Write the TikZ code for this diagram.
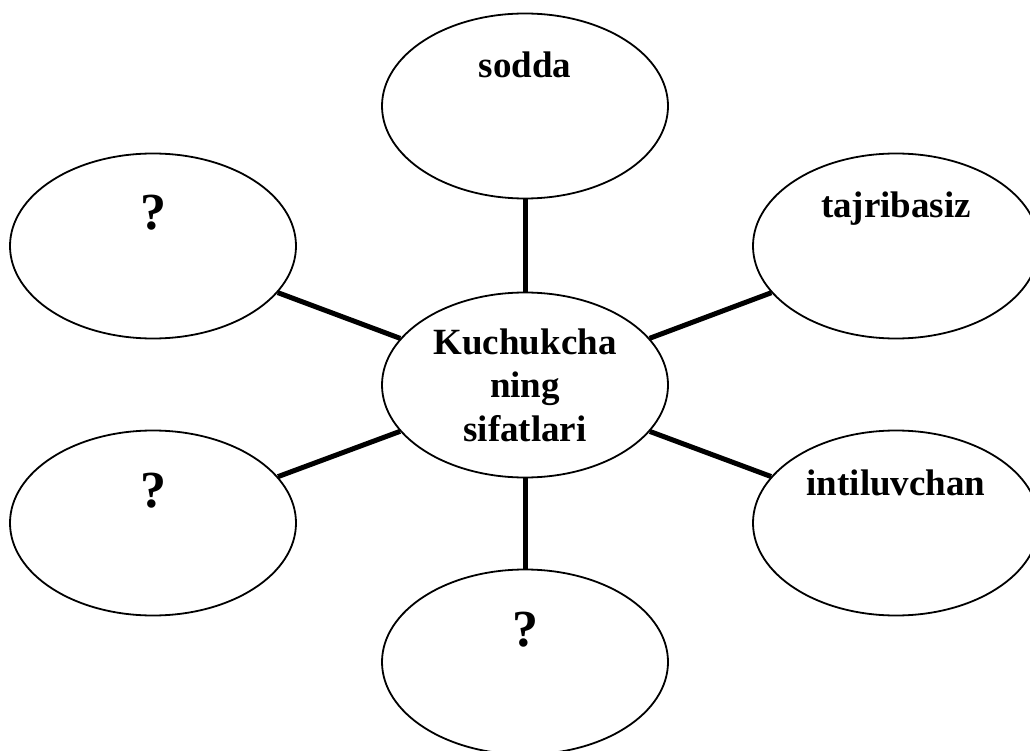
\documentclass[tikz,border=0pt]{standalone}
\usepackage{fontspec}
\setmainfont{Liberation Serif}
\usetikzlibrary{shapes.geometric}
\begin{document}
\begin{tikzpicture}[x=1pt,y=-1pt]
% Styles
\tikzstyle{bulle}=[draw,ellipse,line width=1.8pt,minimum width=286pt,minimum height=185pt,inner sep=0pt,font=\bfseries\fontsize{37}{43.5}\selectfont]
\tikzstyle{mot}=[bulle,text height=25pt,text depth=81pt]
\tikzstyle{question}=[bulle,text height=25pt,text depth=57pt,font=\bfseries\fontsize{52}{60}\selectfont]
\tikzstyle{trait}=[line width=5pt]
% Dimensions
\def\xg{153}
\def\xm{525}
\def\xd{896}
\def\yh{246}
\def\yb{523}
% Cadre
\useasboundingbox (0,0) rectangle (1030,751);
% Bulle centrale
\node[bulle,align=center] (centre) at (\xm,385) {Kuchukcha\\ning\\sifatlari};
% Bulles autour
\node[mot] (sodda) at (\xm,106) {sodda};
\node[mot] (tajribasiz) at (\xd,\yh) {tajribasiz};
\node[mot] (intiluvchan) at (\xd,\yb) {intiluvchan};
\node[question] (qbas) at (\xm,662) {?};
\node[question] (qgb) at (\xg,\yb) {?};
\node[question] (qgh) at (\xg,\yh) {?};
% Traits
\foreach \b in {sodda,tajribasiz,intiluvchan,qbas,qgb,qgh}
  \draw[trait] (centre) -- (\b);
\end{tikzpicture}
\end{document}
